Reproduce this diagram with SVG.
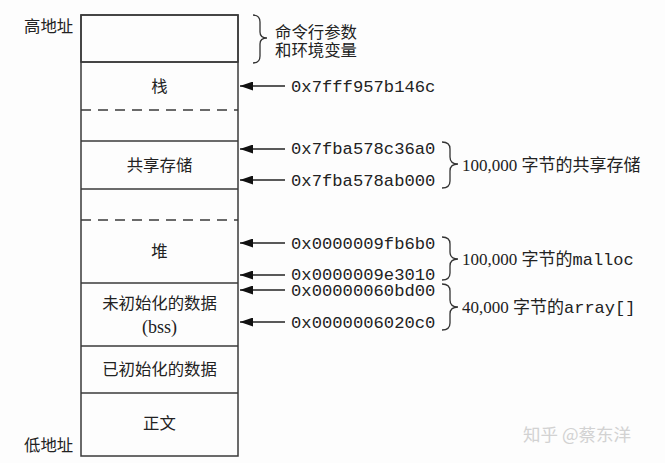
<svg xmlns="http://www.w3.org/2000/svg" width="665" height="463" viewBox="0 0 665 463">
<style>
.bx{fill:none;stroke:#3a3a3a;stroke-width:1.5}
.ds{stroke:#3a3a3a;stroke-width:1.3;stroke-dasharray:10 7}
.ar{stroke:#222;stroke-width:1.3;marker-end:url(#ah)}
.br{fill:none;stroke:#333;stroke-width:1.3}
.cj{font-family:"Liberation Serif","Noto Sans CJK SC",serif;font-size:16.4px;fill:#222}
.ad{font-family:"Liberation Mono","Noto Sans CJK SC",monospace;font-size:17.2px;fill:#222}
.sr{font-family:"Liberation Serif","Noto Sans CJK SC",serif;font-size:17px;fill:#222}
.mo{font-family:"Liberation Mono",monospace}
.mid{text-anchor:middle}
</style>
<defs>
<marker id="ah" markerUnits="userSpaceOnUse" markerWidth="14" markerHeight="9" refX="13" refY="4.5" orient="auto">
<path d="M0,0 L13,4.5 L0,9 z" fill="#111"/>
</marker>
</defs>
<rect width="665" height="463" fill="#fdfdfd"/>
<g id="labels-side">
<text class="cj" x="24" y="32">高地址</text>
<text class="cj" x="24" y="451">低地址</text>
</g>
<g id="node-env">
<rect class="bx" x="81" y="15" width="157" height="47"/>
</g>
<g id="node-stack">
<text class="cj mid" x="159.5" y="92">栈</text>
</g>
<g id="node-shared">
<text class="cj mid" x="159.5" y="171">共享存储</text>
</g>
<g id="node-heap">
<text class="cj mid" x="159.5" y="257">堆</text>
</g>
<g id="node-bss">
<text class="cj mid" x="159.5" y="309">未初始化的数据</text>
<text class="cj mid" x="159.5" y="333" style="font-size:18px">(bss)</text>
</g>
<g id="node-data">
<text class="cj mid" x="159.5" y="375">已初始化的数据</text>
</g>
<g id="node-text">
<text class="cj mid" x="159.5" y="429">正文</text>
</g>
<g id="frame">
<rect class="bx" x="81" y="15" width="157" height="441"/>
<line class="bx" x1="81" y1="62" x2="238" y2="62"/>
<line class="ds" x1="81" y1="110" x2="238" y2="110"/>
<line class="bx" x1="81" y1="141" x2="238" y2="141"/>
<line class="bx" x1="81" y1="189" x2="238" y2="189"/>
<line class="ds" x1="81" y1="220" x2="238" y2="220"/>
<line class="bx" x1="81" y1="283" x2="238" y2="283"/>
<line class="bx" x1="81" y1="346" x2="238" y2="346"/>
<line class="bx" x1="81" y1="393" x2="238" y2="393"/>
</g>
<g id="connectors">
<line class="ar" x1="285" y1="86" x2="240" y2="86"/>
<line class="ar" x1="285" y1="149" x2="240" y2="149"/>
<line class="ar" x1="285" y1="180" x2="240" y2="180"/>
<line class="ar" x1="285" y1="243" x2="240" y2="243"/>
<line class="ar" x1="285" y1="275" x2="240" y2="275"/>
<line class="ar" x1="285" y1="290" x2="240" y2="290"/>
<line class="ar" x1="285" y1="322" x2="240" y2="322"/>
<path class="br" d="M253,15 Q260,15 260,22 L260,32 Q260,38 267,38 Q260,38 260,44 L260,56 Q260,63 253,63"/>
<path class="br" d="M442,142 Q450,142 450,149 L450,157 Q450,164 458,164 Q450,164 450,171 L450,181 Q450,188 442,188"/>
<path class="br" d="M442,237 Q450,237 450,244 L450,252 Q450,259 458,259 Q450,259 450,266 L450,273 Q450,280 442,280"/>
<path class="br" d="M442,284 Q450,284 450,291 L450,300 Q450,307 458,307 Q450,307 450,314 L450,323 Q450,330 442,330"/>
</g>
<g id="annotations">
<text class="cj" x="275" y="38">命令行参数</text>
<text class="cj" x="275" y="56">和环境变量</text>
<text class="ad" x="291" y="92">0x7fff957b146c</text>
<text class="ad" x="291" y="154">0x7fba578c36a0</text>
<text class="ad" x="291" y="186">0x7fba578ab000</text>
<text class="ad" x="291" y="249">0x0000009fb6b0</text>
<text class="ad" x="291" y="280">0x0000009e3010</text>
<text class="ad" x="291" y="296">0x00000060bd00</text>
<text class="ad" x="291" y="328">0x0000006020c0</text>
<text class="sr" x="462" y="171">100,000 字节的共享存储</text>
<text class="sr" x="462" y="265">100,000 字节的<tspan class="mo">malloc</tspan></text>
<text class="sr" x="462" y="313">40,000 字节的<tspan class="mo">array[]</tspan></text>
</g>
<g id="watermark">
<text x="523" y="441" style="font-family:'Noto Sans CJK SC',sans-serif;font-size:17.5px;fill:#d2d2d2">知乎 @蔡东洋</text>
</g>
</svg>
